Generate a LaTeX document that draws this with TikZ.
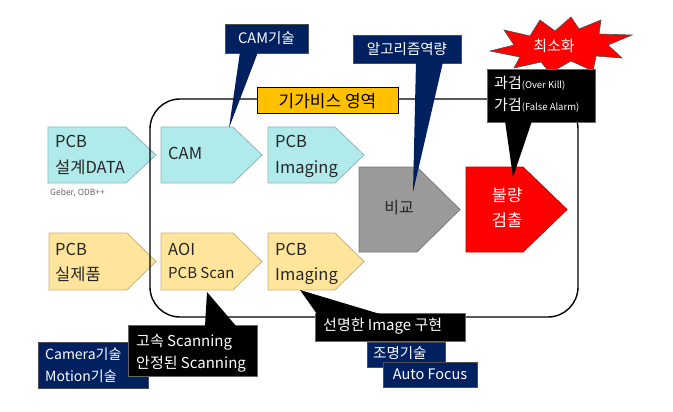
\documentclass[tikz,border=0pt]{standalone}
\usepackage{fontspec}
\setmainfont{Noto Sans CJK KR}
\definecolor{cyanfill}{HTML}{B0EAEA}
\definecolor{cyanline}{HTML}{8FB8B8}
\definecolor{yelfill}{HTML}{FFE59C}
\definecolor{yelline}{HTML}{C9B27A}
\definecolor{greyfill}{HTML}{9A9A9A}
\definecolor{greyline}{HTML}{7A7A7A}
\definecolor{navy}{HTML}{002060}
\definecolor{labelyel}{HTML}{FFC000}
\definecolor{txtdark}{HTML}{262626}
\begin{document}
\begin{tikzpicture}[x=1pt,y=-1pt,
  cyanshape/.style={fill=cyanfill,draw=cyanline,line width=0.8pt},
  yelshape/.style={fill=yelfill,draw=yelline,line width=0.8pt},
  ptext/.style={anchor=base west,inner sep=0pt,text=txtdark,font=\fontsize{16.5}{18}\selectfont},
  ptextsmall/.style={ptext,font=\fontsize{15}{17}\selectfont},
  navybox/.style={fill=navy,draw=black!70,line width=0.5pt,text=white,inner sep=0pt,font=\fontsize{14.5}{16}\selectfont},
  blackbox/.style={fill=black,draw=black!60,line width=0.5pt,text=white,inner sep=0pt,font=\fontsize{15}{17}\selectfont},
  wtext/.style={text=white,inner sep=0pt,anchor=base west},
]
\useasboundingbox (0,0) rectangle (673,412);
\fill[white] (0,0) rectangle (673,412);

% first column shapes (under the frame line)
\path[cyanshape] (48,127) -- (126,127) -- (156,155) -- (126,183) -- (48,183) -- cycle;
\path[yelshape] (49,233) -- (127,233) -- (156,261.5) -- (127,290) -- (49,290) -- cycle;

% frame
\draw[line width=1.4pt, rounded corners=30pt] (150,99) rectangle (578,317);

% label of the frame
\node[fill=labelyel,draw=black,line width=1pt,minimum width=141pt,minimum height=26pt,inner sep=0pt,
  font=\fontsize{17}{19}\selectfont] (lbl) at (327.5,101) {기가비스 영역};

% other pentagons
\path[cyanshape] (161,127) -- (233,127) -- (262,155) -- (233,183) -- (161,183) -- cycle;
\path[cyanshape] (268,127) -- (335,127) -- (364,155) -- (335,183) -- (268,183) -- cycle;
\path[yelshape] (161,233) -- (233,233) -- (262,261.5) -- (233,290) -- (161,290) -- cycle;
\path[yelshape] (268,233) -- (335,233) -- (364,261.5) -- (335,290) -- (268,290) -- cycle;
\path[fill=greyfill,draw=greyline,line width=0.8pt] (359,167) -- (417,167) -- (460,209.5) -- (417,252) -- (359,252) -- cycle;
\path[fill=red,draw=red!75!black,line width=0.8pt] (466,167) -- (523,167) -- (567,209.5) -- (523,252) -- (466,252) -- cycle;

% pentagon texts
\node[ptext] (d1) at (55,148) {PCB};
\node[ptext] (d2) at (55,173) {설계DATA};
\node[anchor=base west,inner sep=0pt,text=black!60,font=\fontsize{8.5}{10}\selectfont] (geb) at (50,195) {Geber, ODB++};
\node[ptext] (cam) at (168,160) {CAM};
\node[ptext] (im1) at (275,148) {PCB};
\node[ptext] (im2) at (275,173) {Imaging};
\node[inner sep=0pt,text=txtdark,font=\fontsize{16}{18}\selectfont] (cmp) at (399,208) {비교};
\node[inner sep=0pt,text=white,font=\fontsize{16.5}{18}\selectfont] (bad1) at (507,195) {불량};
\node[inner sep=0pt,text=white,font=\fontsize{16.5}{18}\selectfont] (bad2) at (507,220) {검출};
\node[ptext] (r1) at (55,255) {PCB};
\node[ptext] (r2) at (55,280) {실제품};
\node[ptext] (aoi1) at (168,255) {AOI};
\node[ptextsmall] (aoi2) at (168,278) {PCB Scan};
\node[ptext] (im3) at (275,255) {PCB};
\node[ptext] (im4) at (275,280) {Imaging};

% pointer tips
\coordinate (tipcam) at (229,128);
\coordinate (tipalg) at (413,192);
\coordinate (tipbad) at (513,177);
\coordinate (tipaoi) at (207,292);
\coordinate (tipimg) at (300,290);

% CAM기술 callout
\node[navybox,minimum width=83pt,minimum height=29pt] (camt) at (266.5,38.5) {CAM기술};
\fill[navy] (240,52) -- (tipcam) -- (258,52) -- cycle;

% 알고리즘역량 callout
\node[navybox,minimum width=108pt,minimum height=28pt] (alg) at (407,49) {알고리즘역량};
\fill[navy] (416,62) -- (tipalg) -- (443,62) -- cycle;

% explosion
\path[fill=red,draw=black!70,line width=0.6pt] (490,51) -- (514,45) -- (504,30) -- (530,36) -- (540,20)
  -- (555,31) -- (571,17) -- (579,29) -- (601,20) -- (599,34) -- (632,35) -- (608,45)
  -- (622,58) -- (596,56) -- (593,71) -- (571,61) -- (550,73) -- (541,62) -- (514,68)
  -- (520,57) -- cycle;
\node[inner sep=0pt,text=white,font=\fontsize{15}{17}\selectfont] (minz) at (554,46) {최소화};

% 과검 가검 callout
\node[blackbox,minimum width=108pt,minimum height=53pt] (over) at (541,95.5) {};
\fill[black] (505,121) -- (tipbad) -- (532,121) -- cycle;
\node[wtext] (ov1) at (494,89) {\fontsize{15}{17}\selectfont 과검\fontsize{9.5}{11}\selectfont (Over Kill)};
\node[wtext] (ov2) at (494,111) {\fontsize{15}{17}\selectfont 가검\fontsize{9.5}{11}\selectfont (False Alarm)};

% Camera기술 box
\node[navybox,minimum width=110pt,minimum height=46pt] (camr) at (93,365) {};
\node[wtext,font=\fontsize{14}{16}\selectfont] (camr1) at (45,359) {Camera기술};
\node[wtext,font=\fontsize{14}{16}\selectfont] (camr2) at (45,381) {Motion기술};

% 고속 Scanning callout
\node[blackbox,minimum width=129pt,minimum height=51pt] (scan) at (192.5,350.5) {};
\fill[black] (205,326) -- (tipaoi) -- (236,326) -- cycle;
\node[wtext,font=\fontsize{15}{17}\selectfont] (scan1) at (136,346) {고속 Scanning};
\node[wtext,font=\fontsize{15}{17}\selectfont] (scan2) at (136,368) {안정된 Scanning};

% 선명한 Image 구현 callout
\node[blackbox,minimum width=150pt,minimum height=28pt] (sharp) at (390,327) {};
\fill[black] (317,314) -- (tipimg) -- (380,314) -- cycle;
\node[anchor=west,inner sep=0pt,text=white,font=\fontsize{15}{17}\selectfont] (sharpt) at (323,326.5) {선명한 Image 구현};

% 조명기술 / Auto Focus
\node[navybox,minimum width=78pt,minimum height=25pt] (light) at (406,354.5) {};
\node[anchor=west,inner sep=0pt,text=white,font=\fontsize{14.5}{16}\selectfont] (lightt) at (373,353.5) {조명기술};
\node[navybox,minimum width=94pt,minimum height=25pt] (af) at (430,374.5) {Auto Focus};
\end{tikzpicture}
\end{document}
